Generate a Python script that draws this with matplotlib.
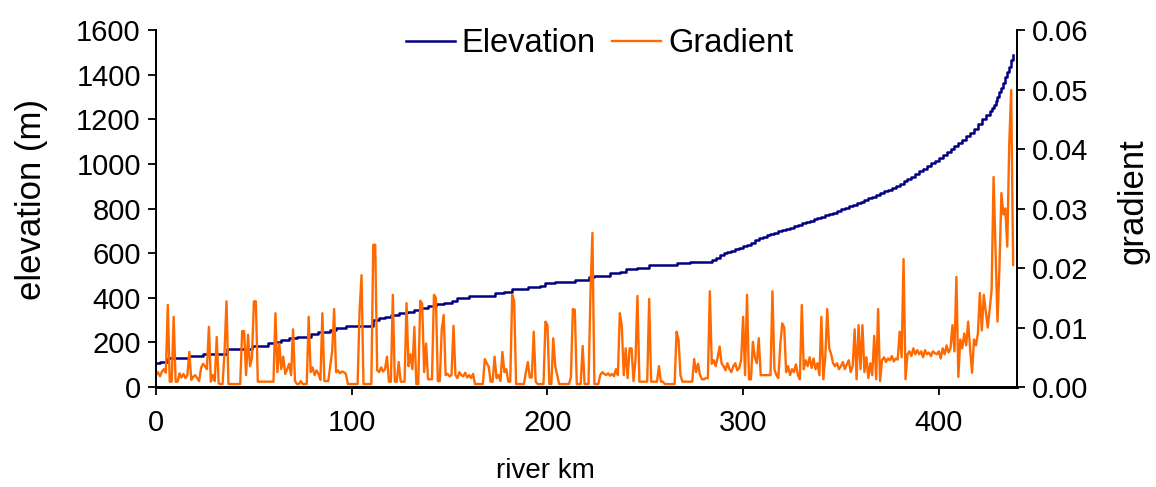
import numpy as np
import matplotlib
matplotlib.use("Agg")
import matplotlib.pyplot as plt

plt.rcParams['font.family'] = ['Liberation Sans', 'DejaVu Sans']

# ---- data -------------------------------------------------------------
# elevation profile: step breakpoints (river km) and elevation (m)
elev_km = [0, 2, 6, 17, 24, 36, 49, 57, 61, 64, 68, 72, 79, 83, 89, 92, 97,
           111, 114, 117, 120, 124, 128, 132, 135, 139, 143, 147, 151, 154,
           160, 173, 178, 182, 190, 196, 199, 204, 214, 221, 224, 232, 237,
           240, 246, 252, 266, 273,
           284, 286, 288, 290, 292, 294, 296, 298, 300, 302, 304, 306, 308,
           310, 312, 314, 316, 318, 320, 322, 324, 326, 328, 330, 332, 334,
           336, 338, 340, 342, 344, 346, 348, 350, 352, 354, 356, 358, 360,
           362, 364, 366, 368, 370, 372, 374, 376, 378, 380, 382, 384, 386,
           388, 390, 392, 394, 396, 398, 400, 402, 404, 406, 408, 410, 412,
           414, 416, 418, 420, 422, 424, 426, 427, 428, 429, 430, 431, 432,
           433, 434, 435, 436, 437, 438]
elev_m = [106, 113, 131, 139, 149, 169, 185, 196, 200, 211, 218, 225, 238,
          248, 255, 266, 275,
          300, 308, 312, 323, 330, 338, 345, 353, 363, 372, 378, 387, 398,
          408, 420, 427, 438, 447, 454, 465, 472, 480, 492, 499, 510, 517,
          527, 535, 545, 554, 562,
          568, 580, 590, 600, 606, 611, 618, 625, 632, 638, 646, 657, 667,
          674, 680, 685, 691, 697, 702, 707, 713, 720, 727, 733, 739, 745,
          751, 757, 763, 769, 775, 782, 789, 796, 803, 810, 817, 824, 831,
          839, 846, 853, 861, 869, 877, 885, 893, 902, 912, 922, 932, 943,
          954, 966, 978, 990, 1003, 1015, 1028, 1040, 1053, 1066, 1080, 1094,
          1108, 1123, 1140, 1158, 1180, 1200, 1220, 1238, 1250, 1262, 1280,
          1300, 1320, 1340, 1364, 1388, 1412, 1436, 1465, 1490]

# gradient, one value per river km (0 .. 438), in thousandths (m/m x 1000)
gradient_permille = [
    2.0, 2.5, 1.8, 2.6, 3.0, 2.4, 13.8, 0.9, 0.9, 11.8,      # 0
    0.9, 0.9, 2.3, 1.6, 2.2, 1.5, 2.0, 5.9, 1.2, 1.7,        # 10
    2.0, 1.5, 1.0, 3.2, 3.9, 3.5, 3.0, 10.1, 0.9, 2.0,       # 20
    1.0, 8.4, 0.6, 0.5, 0.5, 6.0, 14.4, 0.5, 0.5, 0.5,       # 30
    0.5, 0.5, 0.5, 0.5, 9.4, 9.4, 2.0, 8.8, 3.5, 4.9,        # 40
    14.4, 14.4, 0.9, 0.9, 0.9, 0.9, 0.9, 0.9, 0.9, 0.9,      # 50
    0.9, 12.4, 2.5, 7.3, 3.0, 5.1, 2.2, 3.0, 3.9, 2.0,       # 60
    9.7, 1.0, 0.5, 0.5, 1.0, 0.5, 0.5, 0.5, 11.8, 2.5,       # 70
    3.3, 2.0, 2.8, 2.2, 1.2, 12.4, 1.0, 1.0, 1.0, 3.5,       # 80
    6.0, 13.1, 2.5, 2.8, 2.3, 2.6, 2.5, 2.2, 0.5, 0.5,       # 90
    0.5, 0.5, 0.5, 0.5, 12.7, 18.8, 0.5, 0.5, 0.5, 0.5,      # 100
    0.5, 23.9, 23.9, 2.8, 2.5, 3.3, 2.6, 3.0, 5.1, 0.9,      # 110
    0.9, 15.5, 0.9, 0.9, 4.2, 0.9, 0.9, 0.9, 14.1, 3.5,      # 120
    5.5, 3.0, 10.1, 0.5, 0.5, 14.5, 14.0, 2.5, 7.3, 1.3,     # 130
    1.3, 1.3, 15.5, 15.0, 1.0, 1.0, 9.7, 12.1, 2.0, 2.2,     # 140
    1.8, 2.0, 10.3, 2.0, 1.5, 2.5, 2.0, 1.8, 2.4, 1.6,       # 150
    2.0, 1.5, 2.2, 0.5, 0.5, 0.5, 0.5, 0.5, 4.7, 4.0,        # 160
    3.4, 0.9, 0.9, 5.1, 1.5, 2.0, 1.0, 5.9, 2.5, 3.0,        # 170
    0.9, 0.9, 15.5, 14.5, 0.5, 0.5, 0.5, 0.5, 0.5, 2.5,      # 180
    4.2, 1.6, 1.6, 9.3, 0.9, 0.5, 0.5, 0.5, 0.5, 11.0,       # 190
    10.4, 0.5, 0.5, 8.2, 3.5, 2.0, 0.5, 0.5, 0.5, 0.5,       # 200
    0.5, 0.5, 1.6, 13.1, 13.0, 0.5, 0.5, 0.5, 6.9, 0.5,      # 210
    0.5, 0.5, 15.7, 25.9, 0.5, 0.5, 0.5, 2.0, 2.5, 2.2,      # 220
    2.0, 2.3, 1.9, 2.2, 1.8, 3.0, 2.0, 12.4, 10.3, 2.0,      # 230
    6.5, 1.5, 6.5, 6.5, 1.0, 4.5, 15.3, 0.9, 0.9, 0.9,       # 240
    0.9, 0.9, 14.8, 0.9, 0.9, 0.9, 0.9, 3.5, 0.9, 0.9,       # 250
    0.5, 0.5, 0.5, 0.5, 0.5, 0.5, 9.3, 8.0, 2.0, 0.9,        # 260
    0.9, 0.9, 0.9, 0.9, 0.9, 4.7, 2.5, 3.9, 2.0, 1.3,        # 270
    1.3, 1.5, 1.5, 16.1, 3.9, 4.5, 3.5, 5.0, 6.8, 4.0,       # 280
    3.5, 2.8, 4.0, 3.0, 2.5, 3.5, 4.0, 2.8, 3.2, 4.5,        # 290
    11.8, 2.0, 15.5, 1.3, 1.3, 7.6, 5.0, 4.0, 8.2, 2.0,      # 300
    2.0, 2.0, 2.0, 2.0, 2.0, 16.1, 3.0, 2.0, 1.5, 7.0,       # 310
    10.7, 10.0, 2.5, 3.5, 2.0, 3.0, 2.5, 3.8, 2.0, 1.3,      # 320
    13.8, 3.0, 4.5, 3.5, 5.0, 3.2, 4.8, 3.0, 4.0, 2.0,       # 330
    11.8, 1.3, 5.0, 13.1, 6.5, 5.5, 4.0, 3.5, 4.0, 3.0,      # 340
    3.5, 4.2, 3.0, 3.8, 4.5, 2.5, 3.5, 9.7, 1.3, 10.4,       # 350
    3.0, 10.4, 2.5, 5.0, 1.5, 4.0, 2.0, 8.6, 1.3, 13.1,      # 360
    1.0, 4.5, 5.0, 4.2, 4.8, 4.5, 5.2, 4.3, 4.8, 4.6,        # 370
    9.3, 5.0, 21.5, 1.3, 5.5, 6.0, 5.2, 6.5, 5.5, 6.2,       # 380
    5.5, 6.0, 5.0, 6.2, 5.5, 5.8, 5.2, 6.0, 5.7, 5.5,        # 390
    6.0, 4.8, 6.5, 5.5, 7.0, 5.8, 6.5, 10.4, 6.0, 18.5,      # 400
    1.7, 8.0, 6.5, 9.0, 7.0, 11.0, 6.5, 2.4, 8.0, 7.0,       # 410
    9.0, 15.8, 9.5, 15.5, 12.8, 10.0, 13.0, 16.3, 35.3, 23.4,  # 420
    11.0, 20.0, 32.6, 29.0, 30.0, 23.6, 40.7, 49.9, 20.5,    # 430
]
gradient_km = list(range(len(gradient_permille)))

x_ticks = [0, 100, 200, 300, 400]
elev_ticks = [0, 200, 400, 600, 800, 1000, 1200, 1400, 1600]
grad_ticks = [0.00, 0.01, 0.02, 0.03, 0.04, 0.05, 0.06]

# ---- figure -------------------------------------------------------------
fig = plt.figure(figsize=(11.56, 4.87), dpi=100)
ax = fig.add_axes([0.135, 0.2053, 0.7448, 0.7331])
ax2 = ax.twinx()

NAVY = '#000080'
ORANGE = '#FF6A00'

l1, = ax.plot(elev_km, elev_m, color=NAVY, lw=1.8, drawstyle='steps-post',
              label='Elevation')
l2, = ax2.plot(gradient_km, np.array(gradient_permille) / 1000.0,
               color=ORANGE, lw=1.7, label='Gradient')

ax.set_xlim(0, 440)
ax.set_ylim(0, 1600)
ax2.set_ylim(0, 0.06)
ax.set_xticks(x_ticks)
ax.set_yticks(elev_ticks)
ax2.set_yticks(grad_ticks)
ax2.set_yticklabels([f'{v:.2f}' for v in grad_ticks])

fs_tick = 21
for a in (ax, ax2):
    a.spines['top'].set_visible(False)
    a.tick_params(labelsize=fs_tick, direction='out', length=6, width=1.3,
                  colors='black')
    a.spines['left'].set_linewidth(1.3)
    a.spines['right'].set_linewidth(1.3)
    a.spines['bottom'].set_linewidth(2.0)
ax.tick_params(axis='x', pad=10)
ax.tick_params(axis='y', pad=5)
ax2.tick_params(axis='y', pad=5)

ax.set_xlabel('river km', fontsize=20)
ax.xaxis.set_label_coords(0.452, -0.198)
ax.set_ylabel('elevation (m)', fontsize=25)
ax.yaxis.set_label_coords(-0.126, 0.524)
ax2.set_ylabel('gradient', fontsize=25)
ax2.yaxis.set_label_coords(1.116, 0.521)

leg = ax2.legend(handles=[l1, l2], loc='center',
                 bbox_to_anchor=(0.515, 0.962), ncol=2, frameon=False,
                 fontsize=23.5, handlelength=1.5, handletextpad=0.22,
                 columnspacing=0.5, borderpad=0.0, borderaxespad=0.0)

fig.savefig('out.png', dpi=100)
